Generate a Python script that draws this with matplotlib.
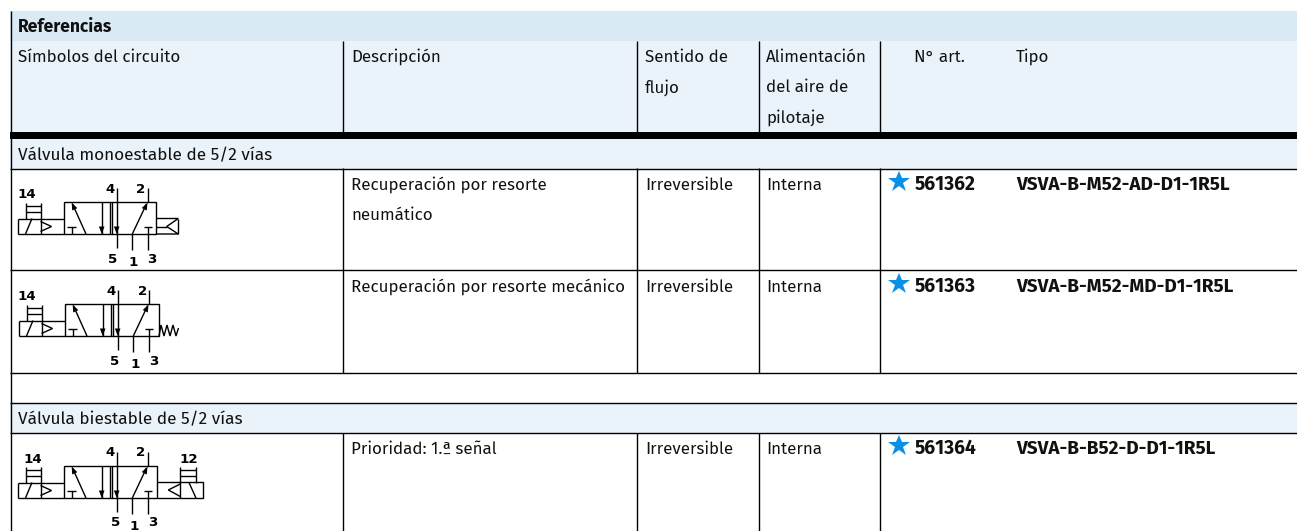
import matplotlib
matplotlib.use("Agg")
from matplotlib import pyplot as plt
from matplotlib.patches import Rectangle

# Textos de la tabla
titulo = "Referencias"
cabeceras = ["Símbolos del circuito", "Descripción", "Sentido de\nflujo", "Alimentación\ndel aire de\npilotaje", "N° art.", "Tipo"]
secciones = ["Válvula monoestable de 5/2 vías", "Válvula biestable de 5/2 vías"]
descripciones = ["Recuperación por resorte\nneumático", "Recuperación por resorte mecánico", "Prioridad: 1.ª señal"]
sentidos = ["Irreversible", "Irreversible", "Irreversible"]
alimentaciones = ["Interna", "Interna", "Interna"]
articulos = ["561362", "561363", "561364"]
tipos = ["VSVA-B-M52-AD-D1-1R5L", "VSVA-B-M52-MD-D1-1R5L", "VSVA-B-B52-D-D1-1R5L"]

FUENTE = ["Fira Sans", "Open Sans", "DejaVu Sans"]
TAM = 12.2
BANDA1 = "#d9eaf4"
BANDA2 = "#eaf2fa"
AZUL = "#0a8fe6"

plt.rcParams["font.family"] = FUENTE

fig = plt.figure(figsize=(12.97, 5.31), dpi=100)
ax = fig.add_axes([0, 0, 1, 1])
ax.set_xlim(0, 1297)
ax.set_ylim(531, 0)
ax.axis("off")


def banda(y0, y1, color):
    ax.add_patch(Rectangle((10, y0), 1287, y1 - y0, color=color, lw=0))


def hlinea(y, lw=1.0):
    ax.plot([10, 1297], [y, y], color="black", lw=lw, solid_capstyle="butt")


def vlinea(x, y0, y1):
    ax.plot([x, x], [y0, y1], color="black", lw=1.0, solid_capstyle="butt")


def texto(x, y, s, tam=TAM, **kw):
    ax.text(x, y, s, fontsize=tam, va="baseline", ha="left", color="#111111", **kw)


def trazo(ox, oy, puntos):
    xs = [p[0] + ox for p in puntos]
    ys = [p[1] + oy for p in puntos]
    ax.plot(xs, ys, color="black", lw=1.0, solid_capstyle="butt", solid_joinstyle="miter")


def flecha(ox, oy, x, y, dx, dy):
    # punta de flecha rellena, (dx, dy) es la direccion unitaria
    l, a = 7.5, 2.8
    px, py = -dy, dx
    ax.fill([ox + x, ox + x - dx * l + px * a, ox + x - dx * l - px * a],
            [oy + y, oy + y - dy * l + py * a, oy + y - dy * l - py * a],
            color="black", lw=0)


def numero(x, y, s):
    ax.text(x, y, s, fontsize=9.6, family="DejaVu Sans", weight="bold",
            ha="center", va="baseline", color="black")


def piloto(ox, oy, x0):
    trazo(ox, oy, [(x0, 202.5), (x0, 218.5)])
    trazo(ox, oy, [(x0 + 15.5, 202.5), (x0 + 15.5, 218.5)])
    trazo(ox, oy, [(x0, 205.5), (x0 + 15.5, 205.5)])
    trazo(ox, oy, [(x0, 212), (x0 + 15.5, 212)])


def valvula(ox, oy, x1=156):
    # cuerpo y mando izquierdo, coordenadas respecto de la primera fila
    trazo(ox, oy, [(63.5, 202), (x1, 202), (x1, 234), (63.5, 234), (63.5, 202)])
    trazo(ox, oy, [(109.5, 202), (109.5, 234)])
    trazo(ox, oy, [(111.5, 202), (111.5, 234)])
    trazo(ox, oy, [(17.5, 218.5), (63.5, 218.5)])
    trazo(ox, oy, [(17.5, 234), (63.5, 234)])
    trazo(ox, oy, [(17.5, 218.5), (17.5, 234)])
    trazo(ox, oy, [(40.5, 218.5), (40.5, 234)])
    trazo(ox, oy, [(25.5, 234), (32, 218.5)])
    trazo(ox, oy, [(40.5, 221.5), (51.5, 226.5), (40.5, 231.5)])
    # vias
    trazo(ox, oy, [(86, 234), (72.5, 204)])
    flecha(ox, oy, 71.7, 202.5, -0.41, -0.91)
    trazo(ox, oy, [(72.3, 234), (72.3, 226.7)])
    trazo(ox, oy, [(67, 226.7), (76, 226.7)])
    trazo(ox, oy, [(101.7, 202), (101.7, 234)])
    flecha(ox, oy, 101.7, 234, 0, 1)
    trazo(ox, oy, [(116.7, 188), (116.7, 248)])
    flecha(ox, oy, 116.7, 234, 0, 1)
    trazo(ox, oy, [(147.7, 188), (147.7, 202)])
    trazo(ox, oy, [(132.3, 234), (146.5, 204)])
    flecha(ox, oy, 147.5, 202.5, 0.43, -0.9)
    trazo(ox, oy, [(132.3, 234), (132.3, 250)])
    trazo(ox, oy, [(147.7, 226.7), (147.7, 250)])
    trazo(ox, oy, [(144, 226.7), (152, 226.7)])


# fondos
banda(11, 41, BANDA1)
banda(41, 132, BANDA2)
banda(139, 169, BANDA2)
banda(403, 433, BANDA2)

# lineas
ax.add_patch(Rectangle((10, 132), 1287, 7, color="black", lw=0))
for y in [169, 270, 373, 403, 433]:
    hlinea(y)
vlinea(10.5, 11, 531)
for x in [343, 637, 758.5, 880]:
    vlinea(x, 41, 132)
    vlinea(x, 168, 373)
    vlinea(x, 433, 531)

# cabecera
texto(18, 32, titulo, tam=12.5, weight="bold")
col_x = [18, 351, 645, 766, 914, 1016]
for x, s in zip(col_x, cabeceras):
    for i, parte in enumerate(s.split("\n")):
        texto(x, 62 + i * 30.5, parte)

texto(18, 160, secciones[0], tam=12.4)
texto(18, 424, secciones[1], tam=12.4)

# filas
fila_y = [190, 292, 454]
for i, y in enumerate(fila_y):
    for j, parte in enumerate(descripciones[i].split("\n")):
        texto(351, y + j * 30, parte)
    texto(645, y, sentidos[i])
    texto(766, y, alimentaciones[i])
    ax.plot([898.5], [y - 8], marker="*", ms=16.5, color=AZUL, mew=0)
    texto(914.5, y, articulos[i], weight="bold", tam=13.8)
    texto(1016, y, tipos[i], weight="bold", tam=13.6)

# simbolo fila 1: resorte neumatico
valvula(0, 0)
piloto(0, 0, 25.5)
trazo(0, 0, [(156, 218.5), (178.3, 218.5), (166.7, 226.5), (178.3, 234), (156, 234)])
trazo(0, 0, [(178.3, 218.5), (178.3, 234)])
trazo(0, 0, [(156, 226.5), (166.7, 226.5)])
numero(27, 198, "14")
numero(110, 193, "4")
numero(141, 193, "2")
numero(113, 263, "5")
numero(132.7, 266, "1")
numero(152, 263, "3")

# simbolo fila 2: resorte mecanico
valvula(1, 102, x1=157.5)
piloto(1, 102, 25.5)
trazo(0, 0, [(159, 336), (161, 325), (164, 336), (167, 325), (170, 336), (173, 325), (176, 336), (178.5, 328)])
numero(27, 300, "14")
numero(111, 295, "4")
numero(143, 295, "2")
numero(115, 365, "5")
numero(135, 368, "1")
numero(154, 365, "3")

# simbolo fila 3: biestable
valvula(0, 264, x1=157)
piloto(0, 264, 25.5)
piloto(0, 264, 180.3)
trazo(0, 0, [(157, 482), (203.3, 482), (203.3, 498), (157, 498)])
trazo(0, 0, [(180.3, 482), (180.3, 498)])
trazo(0, 0, [(180.3, 484), (168.3, 490), (180.3, 496.5)])
trazo(0, 0, [(188.7, 482), (196, 498)])
numero(33, 462.7, "14")
numero(189, 462.7, "12")
numero(110, 456, "4")
numero(141, 456, "2")
numero(115.7, 526, "5")
numero(134, 530, "1")
numero(152.7, 526, "3")

fig.savefig("out.png", dpi=100)
